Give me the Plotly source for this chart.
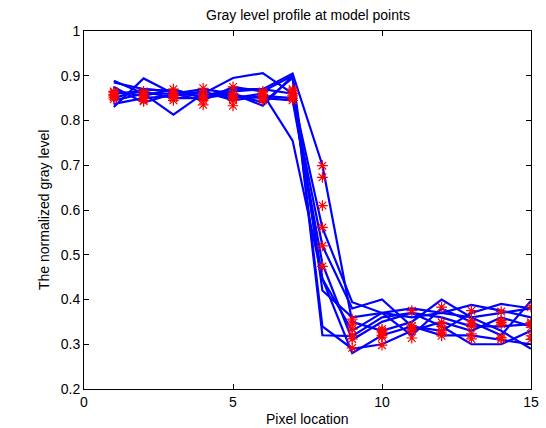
import plotly.graph_objects as go

pixel_locations = list(range(1, 16))

# Gray level profiles (blue lines)
profile_1 = [0.885, 0.870, 0.865, 0.860, 0.895, 0.906, 0.860, 0.446, 0.330, 0.370, 0.360, 0.370, 0.360, 0.370, 0.380]
profile_2 = [0.830, 0.894, 0.860, 0.855, 0.870, 0.870, 0.905, 0.700, 0.350, 0.330, 0.350, 0.400, 0.360, 0.330, 0.290]
profile_3 = [0.845, 0.860, 0.813, 0.860, 0.850, 0.860, 0.755, 0.446, 0.280, 0.320, 0.340, 0.330, 0.370, 0.390, 0.380]
profile_4 = [0.889, 0.860, 0.860, 0.870, 0.860, 0.833, 0.900, 0.320, 0.318, 0.360, 0.370, 0.340, 0.300, 0.300, 0.330]
profile_5 = [0.867, 0.855, 0.870, 0.850, 0.860, 0.840, 0.895, 0.340, 0.290, 0.300, 0.330, 0.350, 0.330, 0.360, 0.340]
profile_6 = [0.837, 0.850, 0.855, 0.865, 0.845, 0.855, 0.850, 0.520, 0.380, 0.400, 0.340, 0.320, 0.320, 0.310, 0.300]
profile_7 = [0.860, 0.865, 0.850, 0.850, 0.865, 0.870, 0.860, 0.560, 0.394, 0.370, 0.380, 0.370, 0.388, 0.375, 0.360]
profile_8 = [0.850, 0.870, 0.865, 0.860, 0.855, 0.850, 0.845, 0.480, 0.310, 0.350, 0.370, 0.360, 0.340, 0.340, 0.345]
profile_9 = [0.875, 0.840, 0.860, 0.845, 0.875, 0.865, 0.900, 0.420, 0.360, 0.370, 0.320, 0.380, 0.350, 0.320, 0.397]
profiles = [profile_1, profile_2, profile_3, profile_4, profile_5,
            profile_6, profile_7, profile_8, profile_9]

# Model points (red asterisks)
model_1 = [0.865, 0.860, 0.870, 0.872, 0.875, 0.862, 0.870, 0.699, 0.356, 0.334, 0.375, 0.383, 0.375, 0.373, 0.383]
model_2 = [0.858, 0.855, 0.862, 0.860, 0.860, 0.858, 0.866, 0.673, 0.334, 0.327, 0.341, 0.349, 0.353, 0.353, 0.349]
model_3 = [0.852, 0.850, 0.855, 0.855, 0.855, 0.853, 0.860, 0.610, 0.312, 0.316, 0.334, 0.330, 0.345, 0.349, 0.338]
model_4 = [0.848, 0.845, 0.850, 0.850, 0.850, 0.848, 0.855, 0.561, 0.292, 0.298, 0.314, 0.319, 0.323, 0.315, 0.319]
model_5 = [0.862, 0.865, 0.858, 0.845, 0.845, 0.845, 0.850, 0.520, 0.345, 0.330, 0.330, 0.340, 0.312, 0.311, 0.311]
model_6 = [0.855, 0.843, 0.845, 0.835, 0.833, 0.865, 0.845, 0.474, 0.320, 0.320, 0.340, 0.325, 0.340, 0.345, 0.345]
models = [model_1, model_2, model_3, model_4, model_5, model_6]

x_ticks = [0, 5, 10, 15]
y_ticks = [0.2, 0.3, 0.4, 0.5, 0.6, 0.7, 0.8, 0.9, 1]
y_tick_text = ["0.2", "0.3", "0.4", "0.5", "0.6", "0.7", "0.8", "0.9", "1"]

title_text = "Gray level profile at model points"
x_title = "Pixel location"
y_title = "The normalized gray level"

FONT = "Liberation Sans, Arial, Helvetica"

fig = go.Figure()
for p in profiles:
    fig.add_trace(go.Scatter(x=pixel_locations, y=p, mode="lines",
                             line=dict(color="rgb(0,0,255)", width=2.2),
                             showlegend=False, hoverinfo="skip"))
for m in models:
    fig.add_trace(go.Scatter(x=pixel_locations, y=m, mode="markers",
                             marker=dict(symbol="asterisk-open", size=9, color="rgb(255,0,0)",
                                         line=dict(color="rgb(255,0,0)", width=1.2)),
                             showlegend=False, hoverinfo="skip"))

axis_common = dict(showgrid=False, zeroline=False, showline=True, mirror="ticks",
                   linecolor="black", linewidth=1, ticks="inside", ticklen=5,
                   tickcolor="black", ticklabeloverflow="allow",
                   tickfont=dict(family=FONT, size=14, color="black"))

fig.update_layout(
    width=546, height=428,
    margin=dict(l=84, r=7, t=31, b=39),
    paper_bgcolor="white", plot_bgcolor="white",
    font=dict(family=FONT, size=14, color="black"),
    xaxis=dict(range=[0, 15], tickvals=x_ticks, **axis_common),
    yaxis=dict(range=[0.2, 1], tickvals=y_ticks, ticktext=y_tick_text, **axis_common),
    annotations=[
        dict(text=title_text, xref="paper", yref="paper", x=0.5, y=1,
             xanchor="center", yanchor="middle", yshift=16, showarrow=False,
             font=dict(family=FONT, size=14, color="black")),
        dict(text=x_title, xref="paper", yref="paper", x=0.5, y=0,
             xanchor="center", yanchor="middle", yshift=-30, showarrow=False,
             font=dict(family=FONT, size=14, color="black")),
        dict(text=y_title, xref="paper", yref="paper", x=0, y=0.5,
             xanchor="center", yanchor="middle", xshift=-40, textangle=-90,
             showarrow=False, font=dict(family=FONT, size=14, color="black")),
    ],
)

fig.write_html("out.html", config={"displayModeBar": False},
               post_script="document.body.style.margin='0';document.body.style.padding='0';")
